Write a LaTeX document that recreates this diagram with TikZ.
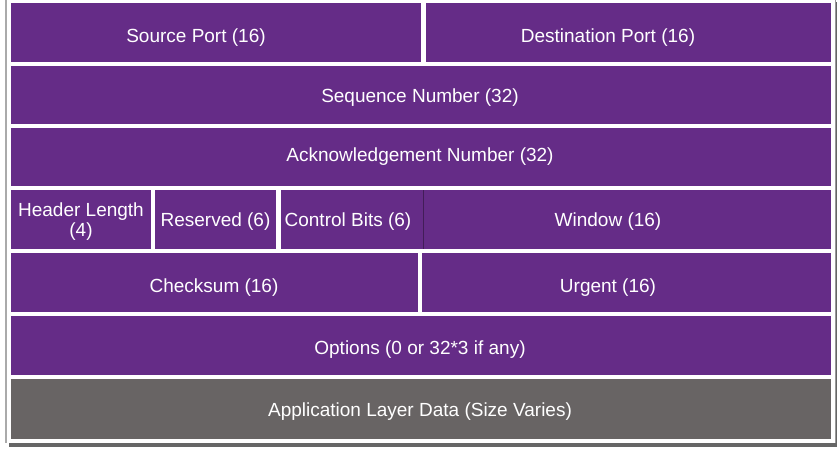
\documentclass[tikz,border=0pt]{standalone}
\usepackage{fontspec}
\setmainfont{Liberation Sans}
\definecolor{tcppurple}{RGB}{101,44,135}
\definecolor{tcpgrey}{RGB}{104,100,100}
\definecolor{framegrey}{RGB}{170,170,170}
\begin{document}
\begin{tikzpicture}[x=1pt,y=-1pt,
  field/.style={fill=tcppurple,draw=none},
  lbl/.style={text=white,font=\fontsize{19}{20}\selectfont,align=center,inner sep=0pt,yshift=-2pt}]
\useasboundingbox (0,0) rectangle (839,448);
\fill[white] (0,0) rectangle (839,448);
% frame and shadow
\fill[black!60] (9,2) rectangle (837,446.5);
\fill[white] (6,-2) rectangle (834.5,443);
\draw[framegrey,line width=1.5pt] (6,-2) -- (6,443);
\draw[black!40,line width=1pt] (835,-2) -- (835,443);
% fields
\path[field] (11,3) rectangle (421,62);
\node[lbl] (src) at (196,36) {Source Port (16)};
\path[field] (426,3) rectangle (831,62);
\node[lbl] (dst) at (608,36) {Destination Port (16)};
\path[field] (11,66) rectangle (831,124);
\node[lbl] (seq) at (420,95.5) {Sequence Number (32)};
\path[field] (11,128) rectangle (831,186);
\node[lbl] (ack) at (420,155) {Acknowledgement Number (32)};
\path[field] (11,190) rectangle (151,249);
\node[lbl] (hl) at (81,220) {Header Length\\(4)};
\path[field] (155,190) rectangle (276,249);
\node[lbl] (res) at (215.5,219.5) {Reserved (6)};
\path[field] (281,190) rectangle (423,249);
\node[lbl] (cb) at (348,219.5) {Control Bits (6)};
\path[field] (423,190) rectangle (831,249);
\draw[black!35!tcppurple,line width=0.8pt] (423,190) -- (423,249);
\node[lbl] (win) at (608,219.5) {Window (16)};
\path[field] (11,253) rectangle (418,312);
\node[lbl] (chk) at (214,285.5) {Checksum (16)};
\path[field] (422,253) rectangle (831,312);
\node[lbl] (urg) at (608,285.5) {Urgent (16)};
\path[field] (11,316) rectangle (831,375);
\node[lbl] (opt) at (420,348) {Options (0 or 32*3 if any)};
\path[fill=tcpgrey] (11,379) rectangle (831,439);
\node[lbl] (app) at (420,410) {Application Layer Data (Size Varies)};
\end{tikzpicture}
\end{document}
